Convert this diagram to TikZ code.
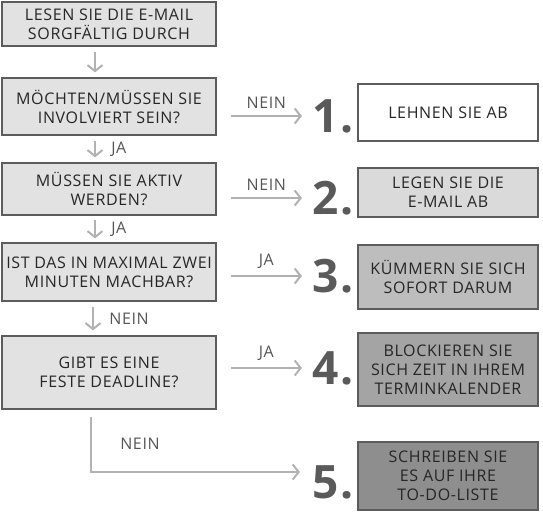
\documentclass[tikz,border=0pt]{standalone}
\usepackage{fontspec}
\setmainfont{Open Sans}[LetterSpace=4]
\usetikzlibrary{arrows.meta}
\definecolor{boxline}{HTML}{5C5C5C}
\definecolor{ink}{HTML}{262626}
\definecolor{leftgray}{HTML}{E2E2E2}
\definecolor{graytwo}{HTML}{DADADA}
\definecolor{graythree}{HTML}{BDBDBD}
\definecolor{grayfour}{HTML}{A4A4A4}
\definecolor{grayfive}{HTML}{8E8E8E}
\definecolor{arrowgray}{HTML}{B2B2B2}
\definecolor{numgray}{HTML}{5A5A5A}
\definecolor{lblgray}{HTML}{555555}
\begin{document}
\begin{tikzpicture}[x=1pt,y=-1pt,
	box/.style={draw=boxline,line width=1.3pt,fill=#1,text=ink,align=center,inner sep=0pt,font=\fontsize{16}{19}\selectfont},
	leftbox/.style={box=leftgray,minimum width=214pt},
	rightbox/.style={box=#1,minimum width=180pt},
	num/.style={anchor=west,inner sep=0pt,text=numgray,font=\fontsize{46}{46}\selectfont\bfseries},
	lbl/.style={text=lblgray,font=\fontsize{16}{16}\selectfont},
	flow/.style={draw=arrowgray,line width=2pt,-{Straight Barb[length=6pt,width=15pt,line width=2pt]}}]
	\useasboundingbox (0,0) rectangle (543,512);
	\node[leftbox,minimum height=44pt] (read) at (109,24) {LESEN SIE DIE E-MAIL\\SORGFÄLTIG DURCH};
	\node[leftbox,minimum height=57pt] (involve) at (109,106.5) {MÖCHTEN/MÜSSEN SIE\\INVOLVIERT SEIN?};
	\node[leftbox,minimum height=52pt] (active) at (109,189) {MÜSSEN SIE AKTIV\\WERDEN?};
	\node[leftbox,minimum height=58pt] (twomin) at (109,272) {IST DAS IN MAXIMAL ZWEI\\MINUTEN MACHBAR?};
	\node[leftbox,minimum height=73pt] (deadline) at (109,372.5) {GIBT ES EINE\\FESTE DEADLINE?};
	\node[rightbox=white,minimum height=57pt] (reject) at (448,112.5) {LEHNEN SIE AB};
	\node[rightbox=graytwo,minimum height=49pt] (file) at (448,192.5) {LEGEN SIE DIE\\E-MAIL AB};
	\node[rightbox=graythree,minimum height=64pt] (now) at (448,277) {KÜMMERN SIE SICH\\SOFORT DARUM};
	\node[rightbox=grayfour,minimum height=73pt] (block) at (448,369.5) {BLOCKIEREN SIE\\SICH ZEIT IN IHREM\\TERMINKALENDER};
	\node[rightbox=grayfive,minimum height=68pt] (todo) at (448,476) {SCHREIBEN SIE\\ES AUF IHRE\\TO-DO-LISTE};
	\node[num] (n1) at (312,116) {1.};
	\node[num] (n2) at (312,198) {2.};
	\node[num] (n3) at (312,276) {3.};
	\node[num] (n4) at (312,368) {4.};
	\node[num] (n5) at (312,482) {5.};
	\coordinate (turn) at (91,472);
	\coordinate (todoin) at (300,472);
	\draw[flow] ([xshift=-14pt,yshift=-5pt]read.south) -- ([xshift=-14pt,yshift=5pt]involve.north);
	\draw[flow] ([xshift=-14pt,yshift=-5pt]involve.south) -- node[lbl,midway,right=12pt] {JA} ([xshift=-14pt,yshift=5pt]active.north);
	\draw[flow] ([xshift=-14pt,yshift=-4pt]active.south) -- node[lbl,midway,right=12pt] {JA} ([xshift=-14pt,yshift=4pt]twomin.north);
	\draw[flow] ([xshift=-16pt,yshift=-5pt]twomin.south) -- node[lbl,midway,right=12pt] {NEIN} ([xshift=-16pt,yshift=5pt]deadline.north);
	\draw[flow] ([xshift=14pt]involve.east |- n1) -- node[lbl,midway,above=3pt] {NEIN} ([xshift=-10pt]n1.west);
	\draw[flow] ([xshift=14pt]active.east |- n2) -- node[lbl,midway,above=3pt] {NEIN} ([xshift=-10pt]n2.west);
	\draw[flow] ([xshift=14pt]twomin.east |- n3) -- node[lbl,midway,above=3pt] {JA} ([xshift=-10pt]n3.west);
	\draw[flow] ([xshift=14pt]deadline.east |- n4) -- node[lbl,midway,above=3pt] {JA} ([xshift=-10pt]n4.west);
	\draw[flow] ([xshift=-18pt,yshift=-7pt]deadline.south) -- (turn) -- (todoin);
	\node[lbl] (nolbl) at (140,444) {NEIN};
\end{tikzpicture}
\end{document}
